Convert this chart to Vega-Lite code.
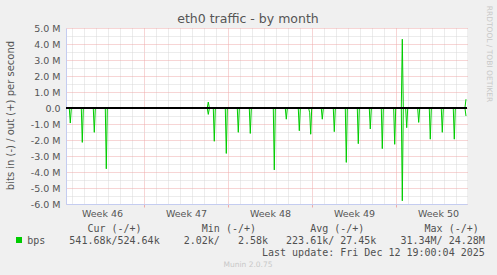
{
 "$schema": "https://vega.github.io/schema/vega-lite/v6.json",
 "width": 401, "height": 176,
 "autosize": {"type": "none"},
 "padding": {"left": 66, "top": 28, "right": 30, "bottom": 71},
 "background": "#f0f0f0",
 "title": {"text": "eth0 traffic - by month", "font": "DejaVu Sans", "fontSize": 12.5, "fontWeight": "normal", "color": "#555555", "anchor": "middle", "frame": "group", "dx": -18.5, "offset": -30.3, "baseline": "alphabetic"},
 "config": {
  "view": {"fill": "#ffffff", "stroke": null},
  "axis": {"labelFont": "DejaVu Sans", "labelFontSize": 9.5, "labelColor": "#555555", "titleFont": "DejaVu Sans", "titleFontSize": 10, "titleFontWeight": "normal", "titleColor": "#555555", "titleLimit": 1000}
 },
 "data": {"values": [
  {"d":0.583,"s":"in","v":-30000},{"d":0.775,"s":"in","v":-30000},{"d":0.858,"s":"in","v":-940000},{"d":0.942,"s":"in","v":-30000},{"d":1.083,"s":"in","v":-30000},{"d":1.25,"s":"in","v":null},
  {"d":1.417,"s":"in","v":-30000},{"d":1.775,"s":"in","v":-30000},{"d":1.858,"s":"in","v":-2150000},{"d":1.942,"s":"in","v":-30000},{"d":2.333,"s":"in","v":-30000},{"d":2.417,"s":"in","v":null},
  {"d":2.5,"s":"in","v":-30000},{"d":2.775,"s":"in","v":-30000},{"d":2.858,"s":"in","v":-1520000},{"d":2.942,"s":"in","v":-30000},{"d":3.083,"s":"in","v":-30000},{"d":3.25,"s":"in","v":null},
  {"d":3.417,"s":"in","v":-30000},{"d":3.775,"s":"in","v":-30000},{"d":3.858,"s":"in","v":-3800000},{"d":3.942,"s":"in","v":-30000},{"d":4.083,"s":"in","v":-30000},{"d":7.5,"s":"in","v":null},
  {"d":11.917,"s":"in","v":-30000},{"d":12.275,"s":"in","v":-30000},{"d":12.358,"s":"in","v":-400000},{"d":12.442,"s":"in","v":-30000},{"d":12.775,"s":"in","v":-30000},{"d":12.858,"s":"in","v":-2080000},{"d":12.942,"s":"in","v":-30000},{"d":13.775,"s":"in","v":-30000},{"d":13.858,"s":"in","v":-2840000},{"d":13.942,"s":"in","v":-30000},{"d":14.775,"s":"in","v":-30000},{"d":14.858,"s":"in","v":-1520000},{"d":14.942,"s":"in","v":-30000},{"d":15.775,"s":"in","v":-30000},{"d":15.858,"s":"in","v":-1590000},{"d":15.942,"s":"in","v":-30000},{"d":16.667,"s":"in","v":-30000},{"d":17.25,"s":"in","v":null},
  {"d":17.775,"s":"in","v":-30000},{"d":17.858,"s":"in","v":-3870000},{"d":17.942,"s":"in","v":-30000},{"d":18.083,"s":"in","v":-30000},{"d":18.25,"s":"in","v":null},
  {"d":18.417,"s":"in","v":-30000},{"d":18.775,"s":"in","v":-30000},{"d":18.858,"s":"in","v":-700000},{"d":18.942,"s":"in","v":-30000},{"d":19.083,"s":"in","v":-30000},{"d":19.25,"s":"in","v":null},
  {"d":19.417,"s":"in","v":-30000},{"d":19.858,"s":"in","v":-30000},{"d":19.942,"s":"in","v":-1420000},{"d":20.025,"s":"in","v":-30000},{"d":20.083,"s":"in","v":-30000},{"d":20.25,"s":"in","v":null},
  {"d":20.417,"s":"in","v":-30000},{"d":20.725,"s":"in","v":-30000},{"d":20.808,"s":"in","v":-300000},{"d":20.892,"s":"in","v":-1640000},{"d":20.975,"s":"in","v":-30000},{"d":21.0,"s":"in","v":-30000},{"d":21.167,"s":"in","v":null},
  {"d":21.417,"s":"in","v":-30000},{"d":21.775,"s":"in","v":-30000},{"d":21.858,"s":"in","v":-700000},{"d":21.942,"s":"in","v":-30000},{"d":22.167,"s":"in","v":-30000},{"d":22.292,"s":"in","v":null},
  {"d":22.417,"s":"in","v":-30000},{"d":22.775,"s":"in","v":-30000},{"d":22.858,"s":"in","v":-1480000},{"d":22.942,"s":"in","v":-30000},{"d":23.083,"s":"in","v":-30000},{"d":23.25,"s":"in","v":null},
  {"d":23.417,"s":"in","v":-30000},{"d":23.775,"s":"in","v":-30000},{"d":23.858,"s":"in","v":-3400000},{"d":23.942,"s":"in","v":-30000},{"d":24.083,"s":"in","v":-30000},{"d":24.25,"s":"in","v":null},
  {"d":24.417,"s":"in","v":-30000},{"d":24.775,"s":"in","v":-30000},{"d":24.858,"s":"in","v":-2230000},{"d":24.942,"s":"in","v":-30000},{"d":25.083,"s":"in","v":-30000},{"d":25.25,"s":"in","v":null},
  {"d":25.417,"s":"in","v":-30000},{"d":25.775,"s":"in","v":-30000},{"d":25.858,"s":"in","v":-1310000},{"d":25.942,"s":"in","v":-30000},{"d":26.167,"s":"in","v":-30000},{"d":26.333,"s":"in","v":null},
  {"d":26.5,"s":"in","v":-30000},{"d":26.775,"s":"in","v":-30000},{"d":26.858,"s":"in","v":-2540000},{"d":26.942,"s":"in","v":-30000},{"d":27.167,"s":"in","v":-30000},{"d":27.333,"s":"in","v":null},
  {"d":27.5,"s":"in","v":-30000},{"d":27.808,"s":"in","v":-30000},{"d":27.892,"s":"in","v":-2270000},{"d":27.975,"s":"in","v":-30000},{"d":28.0,"s":"in","v":-30000},{"d":28.167,"s":"in","v":null},
  {"d":28.333,"s":"in","v":-30000},{"d":28.442,"s":"in","v":-30000},{"d":28.525,"s":"in","v":-5800000},{"d":28.608,"s":"in","v":-30000},{"d":28.808,"s":"in","v":-30000},{"d":28.892,"s":"in","v":-1230000},{"d":28.975,"s":"in","v":-30000},{"d":29.333,"s":"in","v":-30000},{"d":29.458,"s":"in","v":null},
  {"d":29.583,"s":"in","v":-30000},{"d":29.808,"s":"in","v":-30000},{"d":29.892,"s":"in","v":-900000},{"d":29.975,"s":"in","v":-30000},{"d":30.25,"s":"in","v":-30000},{"d":30.542,"s":"in","v":null},
  {"d":30.775,"s":"in","v":-30000},{"d":30.858,"s":"in","v":-1950000},{"d":30.942,"s":"in","v":-30000},{"d":31.775,"s":"in","v":-30000},{"d":31.858,"s":"in","v":-1520000},{"d":31.942,"s":"in","v":-30000},{"d":32.167,"s":"in","v":-30000},{"d":32.333,"s":"in","v":null},
  {"d":32.5,"s":"in","v":-30000},{"d":32.775,"s":"in","v":-30000},{"d":32.858,"s":"in","v":-1950000},{"d":32.942,"s":"in","v":-30000},{"d":33.167,"s":"in","v":-30000},{"d":33.333,"s":"in","v":null},
  {"d":33.5,"s":"in","v":-30000},{"d":33.75,"s":"in","v":-30000},{"d":33.833,"s":"in","v":-500000},
  {"d":0.583,"s":"out","v":30000},{"d":1.083,"s":"out","v":30000},{"d":1.25,"s":"out","v":null},{"d":1.417,"s":"out","v":30000},{"d":2.333,"s":"out","v":30000},{"d":2.417,"s":"out","v":null},{"d":2.5,"s":"out","v":30000},{"d":3.083,"s":"out","v":30000},{"d":3.25,"s":"out","v":null},{"d":3.417,"s":"out","v":30000},{"d":4.083,"s":"out","v":30000},{"d":7.5,"s":"out","v":null},
  {"d":11.917,"s":"out","v":30000},{"d":12.275,"s":"out","v":30000},{"d":12.358,"s":"out","v":370000},{"d":12.442,"s":"out","v":30000},{"d":16.667,"s":"out","v":30000},{"d":17.25,"s":"out","v":null},
  {"d":17.775,"s":"out","v":30000},{"d":18.083,"s":"out","v":30000},{"d":18.25,"s":"out","v":null},{"d":18.417,"s":"out","v":30000},{"d":19.083,"s":"out","v":30000},{"d":19.25,"s":"out","v":null},{"d":19.417,"s":"out","v":30000},{"d":20.083,"s":"out","v":30000},{"d":20.25,"s":"out","v":null},{"d":20.417,"s":"out","v":30000},{"d":21.0,"s":"out","v":30000},{"d":21.167,"s":"out","v":null},{"d":21.417,"s":"out","v":30000},{"d":22.167,"s":"out","v":30000},{"d":22.292,"s":"out","v":null},{"d":22.417,"s":"out","v":30000},{"d":23.083,"s":"out","v":30000},{"d":23.25,"s":"out","v":null},{"d":23.417,"s":"out","v":30000},{"d":24.083,"s":"out","v":30000},{"d":24.25,"s":"out","v":null},{"d":24.417,"s":"out","v":30000},{"d":25.083,"s":"out","v":30000},{"d":25.25,"s":"out","v":null},{"d":25.417,"s":"out","v":30000},{"d":26.167,"s":"out","v":30000},{"d":26.333,"s":"out","v":null},{"d":26.5,"s":"out","v":30000},{"d":27.167,"s":"out","v":30000},{"d":27.333,"s":"out","v":null},{"d":27.5,"s":"out","v":30000},{"d":28.0,"s":"out","v":30000},{"d":28.167,"s":"out","v":null},
  {"d":28.333,"s":"out","v":30000},{"d":28.442,"s":"out","v":30000},{"d":28.525,"s":"out","v":4300000},{"d":28.608,"s":"out","v":30000},{"d":29.333,"s":"out","v":30000},{"d":29.458,"s":"out","v":null},
  {"d":29.583,"s":"out","v":30000},{"d":30.25,"s":"out","v":30000},{"d":30.542,"s":"out","v":null},{"d":30.775,"s":"out","v":30000},{"d":32.167,"s":"out","v":30000},{"d":32.333,"s":"out","v":null},{"d":32.5,"s":"out","v":30000},{"d":33.167,"s":"out","v":30000},{"d":33.333,"s":"out","v":null},{"d":33.5,"s":"out","v":30000},{"d":33.75,"s":"out","v":30000},{"d":33.833,"s":"out","v":550000}
 ]},
 "layer": [
  {
   "mark": {"type": "line", "opacity": 0},
   "encoding": {
    "x": {"field": "d", "type": "quantitative", "scale": {"domain": [0.5, 33.917], "nice": false, "zero": false},
      "axis": {"orient": "bottom", "values": [1,2,3,4,5,6,8,9,10,11,12,13,15,16,17,18,19,20,22,23,24,25,26,27,29,30,31,32,33], "grid": true, "gridColor": "#d8d8d8", "gridDash": [1,1], "labels": false, "ticks": false, "domain": false,
        "title": "Munin 2.0.75", "titleFont": "DejaVu Sans", "titleFontSize": 7.5, "titleColor": "#c8c8c8", "titleX": 181.5, "titleY": 60, "titleAlign": "center", "titleBaseline": "middle"}},
    "y": {"field": "v", "type": "quantitative", "scale": {"domain": [-6000000, 5000000], "nice": false},
      "axis": {"orient": "left", "values": [-5500000,-4500000,-3500000,-2500000,-1500000,-500000,500000,1500000,2500000,3500000,4500000], "grid": true, "gridColor": "#d8d8d8", "gridDash": [1,1], "labels": false, "ticks": false, "domain": false, "title": null}},
    "detail": {"field": "s"}
   }
  },
  {
   "mark": {"type": "line", "opacity": 0},
   "encoding": {
    "x": {"field": "d", "type": "quantitative", "scale": {"domain": [0.5, 33.917], "nice": false, "zero": false},
      "axis": {"orient": "bottom", "values": [7,14,21,28], "grid": true, "gridColor": "#eeaaaa", "gridDash": [1,1], "labels": false, "ticks": true, "tickColor": "#eeaaaa", "tickSize": 3, "domain": false,
        "title": ["\u200b\u00a0\u00a0\u00a0\u00a0\u00a0\u00a0\u00a0\u00a0\u00a0\u00a0Cur (-/+)\u00a0\u00a0\u00a0\u00a0\u00a0\u00a0\u00a0\u00a0\u00a0\u00a0Min (-/+)\u00a0\u00a0\u00a0\u00a0\u00a0\u00a0\u00a0\u00a0\u00a0Avg (-/+)\u00a0\u00a0\u00a0\u00a0\u00a0\u00a0\u00a0\u00a0\u00a0\u00a0Max (-/+)",
                  "bps\u00a0\u00a0\u00a0\u00a0541.68k/524.64k\u00a0\u00a0\u00a0\u00a02.02k/\u00a0\u00a0\u00a02.58k\u00a0\u00a0\u00a0223.61k/ 27.45k\u00a0\u00a0\u00a0\u00a031.34M/ 24.28M",
                  "\u200b\u00a0\u00a0\u00a0\u00a0\u00a0\u00a0\u00a0\u00a0\u00a0\u00a0\u00a0\u00a0\u00a0\u00a0\u00a0\u00a0\u00a0\u00a0\u00a0\u00a0\u00a0\u00a0\u00a0\u00a0\u00a0\u00a0\u00a0\u00a0\u00a0\u00a0\u00a0\u00a0\u00a0\u00a0\u00a0\u00a0\u00a0\u00a0\u00a0Last update: Fri Dec 12 19:00:04 2025"],
        "titleFont": "DejaVu Sans Mono", "titleFontSize": 10, "titleColor": "#505050", "titleX": -39.3, "titleY": 19.4, "titleAlign": "left", "titleBaseline": "top", "titleLineHeight": 12}},
    "y": {"field": "v", "type": "quantitative", "scale": {"domain": [-6000000, 5000000], "nice": false},
      "axis": {"orient": "left", "values": [-6000000,-5000000,-4000000,-3000000,-2000000,-1000000,0,1000000,2000000,3000000,4000000,5000000], "grid": true, "gridColor": "#eeaaaa", "gridDash": [1,1], "ticks": false, "labelPadding": 6, "domain": true, "domainColor": "#c4ccf0",
        "labelExpr": "datum.value == 0 ? '0.0' : (datum.value < 0 ? '-' : '') + format(abs(datum.value) / 1000000, '.1f') + ' M'",
        "title": "bits in (-) / out (+) per second", "titleX": -56, "titleY": 87, "titleAngle": 270, "titleAlign": "center", "titleBaseline": "middle"}},
    "detail": {"field": "s"}
   }
  },
  {
   "mark": {"type": "line", "strokeWidth": 1},
   "encoding": {
    "x": {"field": "d", "type": "quantitative", "scale": {"domain": [0.5, 33.917], "nice": false, "zero": false},
      "axis": {"orient": "bottom", "values": [3.5,10.5,17.5,24.5,31.5], "labelExpr": "'Week ' + (46 + floor(datum.value / 7))", "grid": false, "ticks": false, "labelPadding": 4, "domain": true, "domainColor": "#c4ccf0", "title": null}},
    "y": {"field": "v", "type": "quantitative", "scale": {"domain": [-6000000, 5000000], "nice": false},
      "axis": {"orient": "right", "grid": false, "labels": false, "ticks": false, "domain": false,
        "title": "RRDTOOL / TOBI OETIKER", "titleFont": "DejaVu Sans", "titleFontSize": 7.5, "titleColor": "#c8c8c8", "titleAngle": 90, "titleX": 21, "titleY": 25.5, "titleAlign": "center", "titleBaseline": "middle"}},
    "detail": {"field": "s"},
    "color": {"datum": "bps", "scale": {"range": ["#00cc00"]},
      "legend": {"orient": "none", "legendX": -52, "legendY": 207, "title": null, "padding": 0, "symbolType": "square", "symbolSize": 36, "symbolFillColor": "#00cc00", "symbolStrokeWidth": 0, "labelExpr": "''", "labelFontSize": 10}}
   }
  },
  {
   "mark": {"type": "rule", "color": "#000000", "strokeWidth": 1},
   "encoding": {"y": {"datum": 0, "type": "quantitative", "scale": {"domain": [-6000000, 5000000], "nice": false}, "axis": null}}
  }
 ],
 "resolve": {"axis": {"x": "independent", "y": "independent"}}
}
